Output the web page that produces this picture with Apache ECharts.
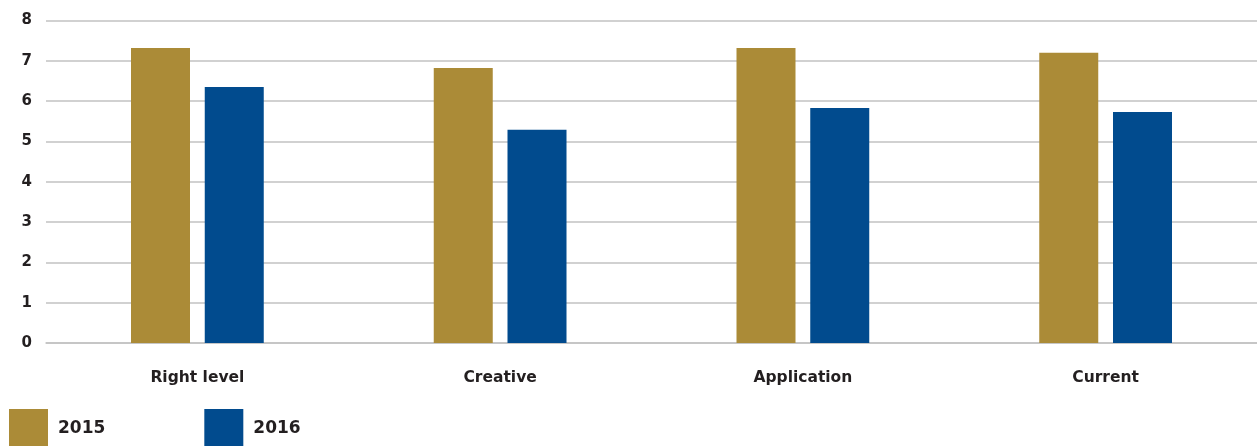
<!DOCTYPE html>
<html>
<head>
<meta charset="utf-8">
<script src="https://cdn.jsdelivr.net/npm/echarts@6/dist/echarts.min.js"></script>
<style>
  html, body { margin: 0; padding: 0; background: #ffffff; }
  #chart { width: 1257px; height: 446px; }
</style>
</head>
<body>
<div id="chart"></div>
<script>
// Scores per topic for two survey years
const categories = ['Right level', 'Creative', 'Application', 'Current'];
const years = ['2015', '2016'];
const values2015 = [7.32, 6.82, 7.32, 7.20];
const values2016 = [6.35, 5.29, 5.83, 5.73];
const yTicks = [0, 1, 2, 3, 4, 5, 6, 7, 8];

const FONT = '"DejaVu Sans", sans-serif';
const TEXT = '#231f20';
const GRID_LINE = '#c2c2c2';

const chart = echarts.init(document.getElementById('chart'), null, { renderer: 'canvas' });

chart.setOption({
  animation: false,
  backgroundColor: '#ffffff',
  grid: { left: 46, right: 0, top: 20.5, bottom: 103, containLabel: false },
  legend: {
    left: 9,
    top: 409,
    padding: 0,
    icon: 'rect',
    itemWidth: 39,
    itemHeight: 39,
    itemGap: 99,
    data: years,
    textStyle: {
      fontFamily: FONT,
      fontWeight: 'bold',
      fontSize: 17,
      color: TEXT,
      padding: [0, 0, 0, 5]
    }
  },
  xAxis: {
    type: 'category',
    data: categories,
    axisTick: { show: false },
    axisLine: { show: true, lineStyle: { color: GRID_LINE, width: 1.5 } },
    axisLabel: {
      margin: 27,
      fontFamily: FONT,
      fontWeight: 'bold',
      fontSize: 15.5,
      color: TEXT
    }
  },
  yAxis: {
    type: 'value',
    min: yTicks[0],
    max: yTicks[yTicks.length - 1],
    interval: 1,
    axisLine: { show: false },
    axisTick: { show: false },
    splitLine: { lineStyle: { color: GRID_LINE, width: 1.5 } },
    axisLabel: {
      margin: 14,
      fontFamily: FONT,
      fontWeight: 'bold',
      fontSize: 15,
      color: TEXT
    }
  },
  series: [
    {
      name: years[0],
      type: 'bar',
      data: values2015,
      barWidth: 59,
      barGap: '25%',
      itemStyle: { color: '#ab8b37' }
    },
    {
      name: years[1],
      type: 'bar',
      data: values2016,
      barWidth: 59,
      barGap: '25%',
      itemStyle: { color: '#014b8e' }
    }
  ]
});
</script>
</body>
</html>
